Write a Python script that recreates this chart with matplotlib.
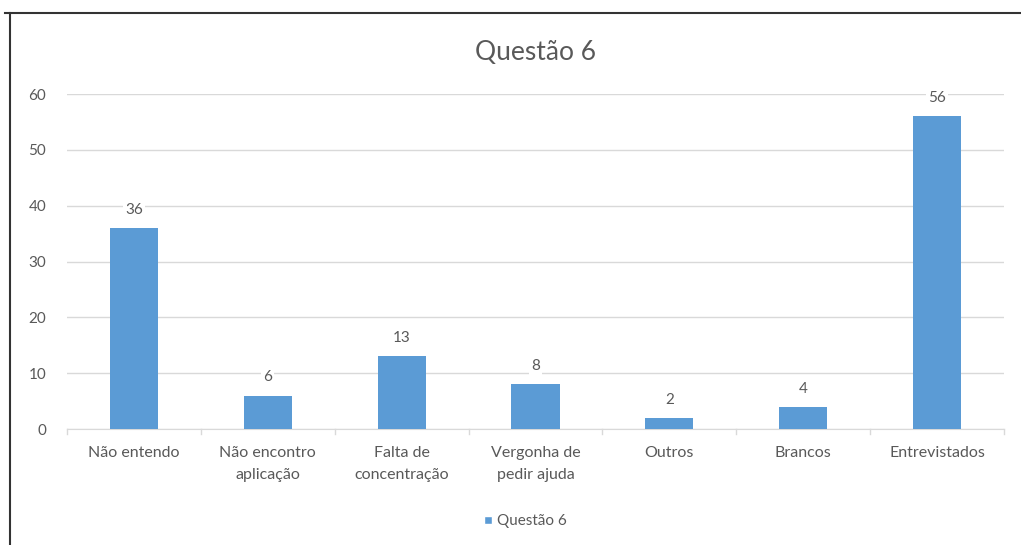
import numpy as np
import matplotlib
matplotlib.use('Agg')
import matplotlib.pyplot as plt
from matplotlib.lines import Line2D

# Dados da questão 6
categorias = ['Não entendo', 'Não encontro\naplicação', 'Falta de\nconcentração',
              'Vergonha de\npedir ajuda', 'Outros', 'Brancos', 'Entrevistados']
valores = [36, 6, 13, 8, 2, 4, 56]
serie = 'Questão 6'
yticks = [0, 10, 20, 30, 40, 50, 60]

cor_barra = '#5B9BD5'
cor_texto = '#595959'
plt.rcParams['font.family'] = ['Lato', 'DejaVu Sans']

fig = plt.figure(figsize=(10.21, 5.45), dpi=100)
ax = fig.add_axes([0.0656, 0.2128, 0.9178, 0.6147])

x = np.arange(len(categorias))
barras = ax.bar(x, valores, width=0.36, color=cor_barra, zorder=3, label=serie)

# rótulos de valor acima das barras
for xi, v in zip(x, valores):
    ax.text(xi, v + 2.0, str(v), ha='center', va='bottom', fontsize=11,
            color=cor_texto, zorder=4,
            bbox=dict(facecolor='white', edgecolor='none', pad=1.5))

ax.set_xlim(-0.5, len(categorias) - 0.5)
ax.set_ylim(0, 60)
ax.set_yticks(yticks)
ax.set_xticks(x)
ax.set_xticklabels(categorias, fontsize=11.5, color=cor_texto, linespacing=1.75)
ax.tick_params(axis='y', labelsize=11, labelcolor=cor_texto, length=0, pad=15)
ax.tick_params(axis='x', length=0, pad=12)
ax.grid(axis='y', color='#D9D9D9', linewidth=1, zorder=0)
for s in ['top', 'right', 'left']:
    ax.spines[s].set_visible(False)
ax.spines['bottom'].set_color('#D9D9D9')

# pequenos traços entre categorias no eixo x
for b in np.arange(-0.5, len(categorias), 1.0):
    ax.plot([b, b], [0, -0.9], color='#D9D9D9', lw=1, clip_on=False)

fig.text(0.524, 0.903, 'Questão 6', ha='center', va='center', fontsize=19,
         color=cor_texto)

ax.legend(handles=[Line2D([0], [0], marker='s', color='w', markerfacecolor=cor_barra,
                          markersize=6, label=serie)],
          loc='center', bbox_to_anchor=(0.513, 0.044), bbox_transform=fig.transFigure,
          frameon=False, fontsize=11, labelcolor=cor_texto, handletextpad=0.1,
          handlelength=1.0)

# moldura (topo e esquerda)
fig.add_artist(Line2D([5 / 1021, 1], [1 - 13 / 545, 1 - 13 / 545], color='#333333', lw=1.5))
fig.add_artist(Line2D([10 / 1021, 10 / 1021], [0, 1 - 13 / 545], color='#333333', lw=1.5))

fig.savefig('out.png', dpi=100, facecolor='white')
